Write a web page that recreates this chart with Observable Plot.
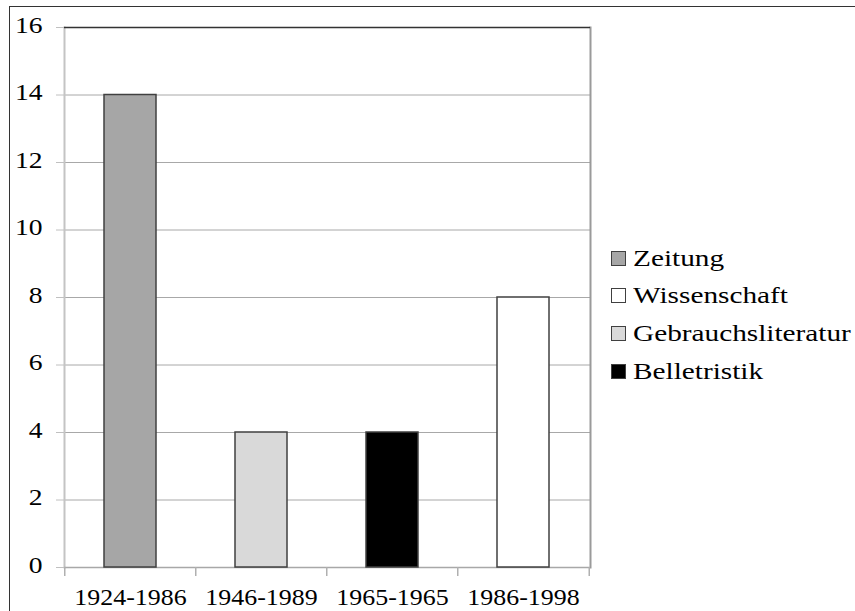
<!DOCTYPE html>
<html>
<head>
<meta charset="utf-8">
<script src="https://cdn.jsdelivr.net/npm/d3@7"></script>
<script src="https://cdn.jsdelivr.net/npm/@observablehq/plot@0.6"></script>
<style>
  body { margin: 0; background: #fff; }
  #wrap { position: relative; width: 855px; height: 611px; overflow: hidden; font-family: "Liberation Serif", "Times New Roman", serif; }
  #border { position: absolute; left: 9px; top: 6px; width: 900px; height: 700px; border-left: 1.5px solid #333; border-top: 1.5px solid #333; pointer-events: none; }
  #chart { position: absolute; left: 0; top: 0; }
  .lg-row { position: absolute; left: 611px; height: 26px; display: flex; align-items: center; white-space: nowrap; }
  .lg-sw { width: 15px; height: 15px; box-sizing: border-box; border: 1.3px solid #404040; flex: none; }
  .lg-tx { display: inline-block; margin-left: 7px; font-family: "Liberation Serif", "Times New Roman", serif; font-size: 24px; color: #000; transform: scaleX(1.22); transform-origin: left center; }
</style>
</head>
<body>
<div id="wrap">
  <div id="chart"></div>
  <div id="legend"></div>
  <div id="border"></div>
</div>
<script>
// ---- data ----
const categories = ["1924-1986", "1946-1989", "1965-1965", "1986-1998"];
const values = [14, 4, 4, 8];
const barGenre = ["Zeitung", "Gebrauchsliteratur", "Belletristik", "Wissenschaft"];
const legendOrder = ["Zeitung", "Wissenschaft", "Gebrauchsliteratur", "Belletristik"];
const legendColors = ["#a6a6a6", "#ffffff", "#d9d9d9", "#000000"];
const yTicks = [0, 2, 4, 6, 8, 10, 12, 14, 16];

// ---- layout ----
const W = 855, H = 611;
const mL = 64, mR = 265, mT = 27, mB = 44;
const padInner = 0.6, padOuter = 0.3;
const step = (W - mL - mR) / (categories.length - padInner + 2 * padOuter);

const rows = categories.map((c, i) => ({ c, v: values[i], g: barGenre[i] }));
const last = categories[categories.length - 1];

const chart = Plot.plot({
  width: W, height: H,
  marginLeft: mL, marginRight: mR, marginTop: mT, marginBottom: mB,
  style: { fontFamily: "'Liberation Serif', 'Times New Roman', serif", fontSize: "24px", background: "transparent", color: "#000" },
  x: { domain: categories, paddingInner: padInner, paddingOuter: padOuter, label: null },
  y: { domain: [0, 16], label: null },
  color: { domain: legendOrder, range: legendColors },
  marks: [
    Plot.gridY(yTicks.filter(v => v > 0 && v < 16), { stroke: "#a8a8a8", strokeOpacity: 1, strokeWidth: 1 }),
    Plot.frame({ anchor: "left", stroke: "#c4c4c4", strokeWidth: 2 }),
    Plot.frame({ anchor: "right", stroke: "#9a9a9a", strokeWidth: 2 }),
    Plot.ruleY([0], { stroke: "#a8a8a8", strokeWidth: 1.5 }),
    Plot.ruleY([16], { stroke: "#333333", strokeWidth: 1.5 }),
    Plot.ruleX(categories, { x: d => d, y1: () => 0, y2: () => -0.27, dx: -step / 2, stroke: "#b0b0b0", strokeWidth: 1.5 }),
    Plot.ruleX([last], { x: d => d, y1: () => 0, y2: () => -0.27, dx: step / 2, stroke: "#b0b0b0", strokeWidth: 1.5 }),
    Plot.axisY({ ticks: yTicks, tickSize: 8, tickPadding: 14, label: null }),
    Plot.axisX({ tickSize: 0, tickPadding: 37, label: null }),
    Plot.barY(rows, { x: "c", y: "v", fill: "g", stroke: "#404040", strokeWidth: 1.5 })
  ]
});
document.getElementById("chart").appendChild(chart);

// light-grey y tick marks
chart.querySelectorAll('g[aria-label="y-axis tick"]').forEach(g => {
  g.setAttribute("stroke", "#c0c0c0");
  g.querySelectorAll("path, line").forEach(p => p.setAttribute("stroke", "#c0c0c0"));
});

// stretch text horizontally to match the reference's wide serif lettering
function stretch(sel, sx, fs, oy) {
  chart.querySelectorAll(sel).forEach(t => {
    const tr = t.getAttribute("transform") || "";
    const x = +t.getAttribute("x") || 0, y = (+t.getAttribute("y") || 0) + oy;
    t.setAttribute("transform", `${tr} translate(${x},${y}) scale(${sx},1)`);
    t.removeAttribute("x"); t.removeAttribute("y");
    t.setAttribute("font-size", fs);
  });
}
stretch('g[aria-label="y-axis tick label"] text', 1.2, 23, 5);
stretch('g[aria-label="x-axis tick label"] text', 1.08, 24, 0);

// legend built from the same arrays and the chart's color scale
const color = chart.scale("color");
const rowCenters0 = 258, rowGap = 37.7;
const lg = document.getElementById("legend");
legendOrder.forEach((name, i) => {
  const row = document.createElement("div");
  row.className = "lg-row";
  row.style.top = (rowCenters0 + i * rowGap - 13) + "px";
  const sw = document.createElement("span");
  sw.className = "lg-sw";
  sw.style.background = color.apply(name);
  const tx = document.createElement("span");
  tx.className = "lg-tx";
  tx.textContent = name;
  row.appendChild(sw); row.appendChild(tx);
  lg.appendChild(row);
});
</script>
</body>
</html>
